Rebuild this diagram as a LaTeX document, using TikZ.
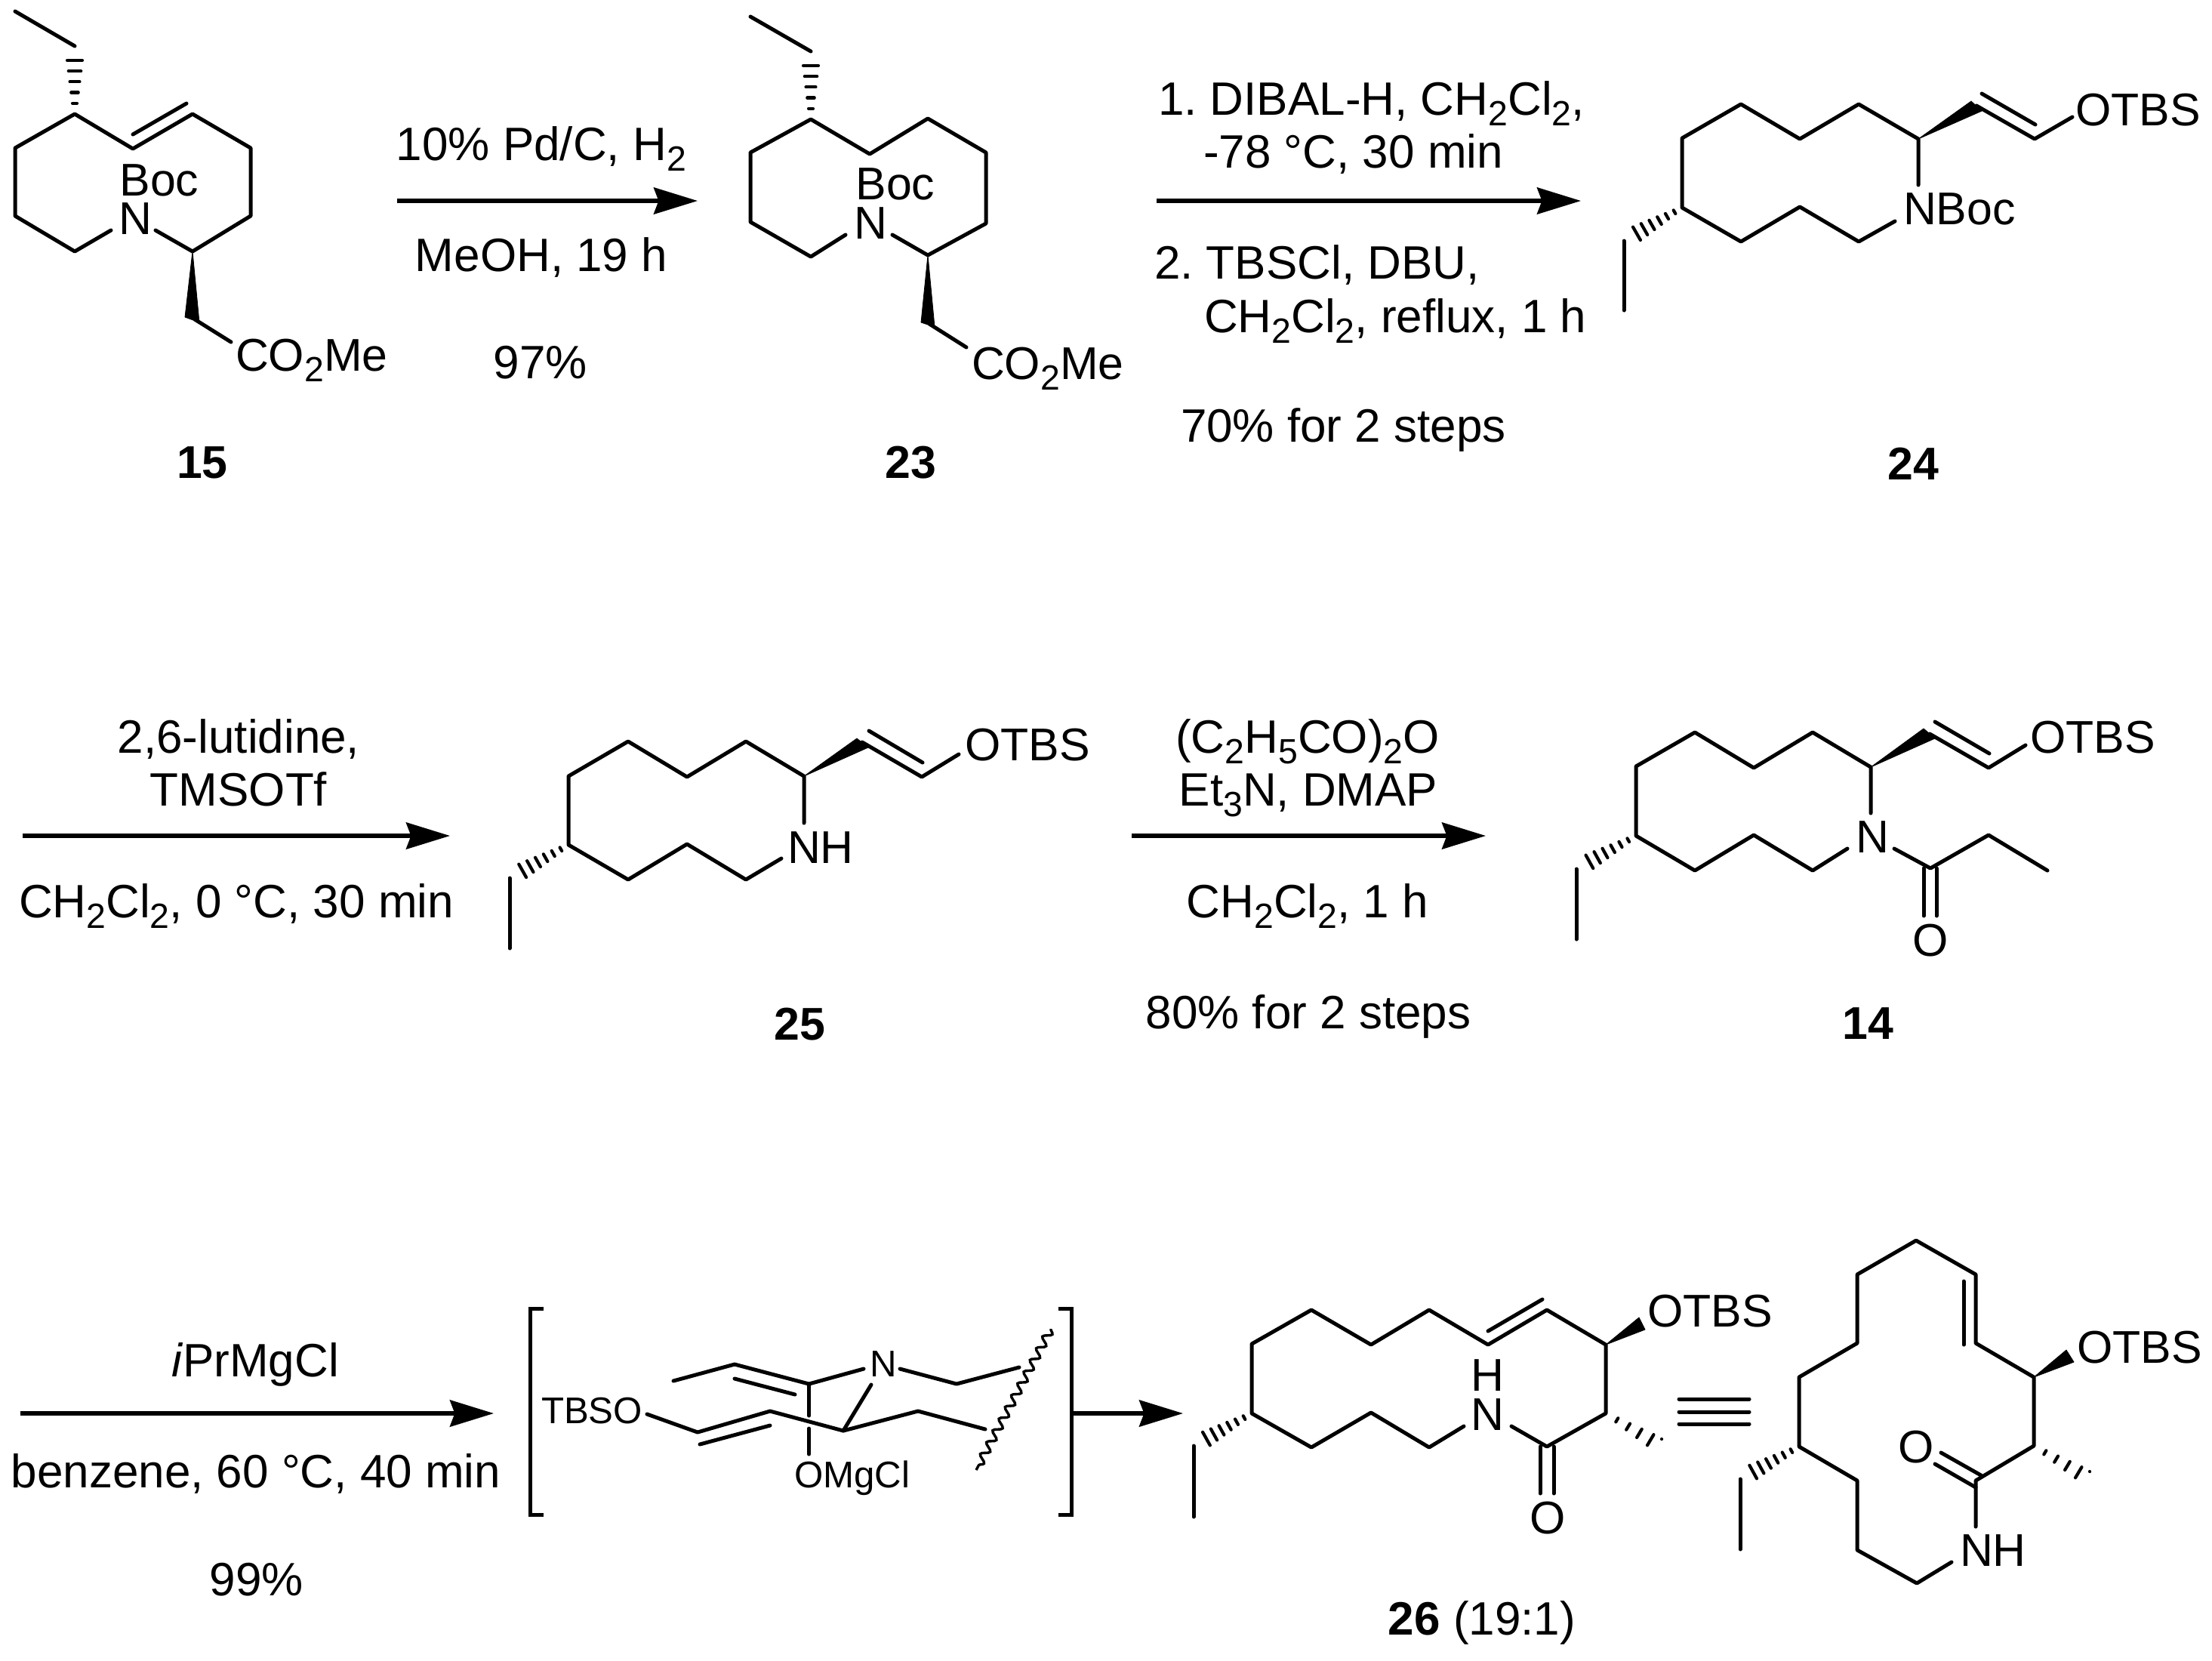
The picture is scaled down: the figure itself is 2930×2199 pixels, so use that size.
\documentclass[tikz,border=0pt]{standalone}
\usepackage{fontspec}
\setmainfont{Liberation Sans}
\usetikzlibrary{arrows.meta,calc,decorations.pathmorphing}
\newcommand\subs[1]{\raisebox{-0.23em}{\fontsize{11.6}{12}\selectfont #1}}
% hashed bond: from narrow end #1 to wide end #2, #4 bars, last one at fraction #3
\newcommand\hashb[4]{%
  \foreach \hI in {1,...,#4}{%
    \pgfmathsetmacro\hT{\hI/#4*#3}%
    \pgfmathsetmacro\hW{0.3+2.2*\hI/#4}%
    \coordinate (hp) at ($#1!\hT!#2$);
    \draw[hashbar] ($(hp)!\hW pt!90:#2$) -- ($(hp)!\hW pt!-90:#2$);
  }}
\tikzset{
  bond/.style={line width=1.25pt,line cap=round,line join=round},
  hashbar/.style={line width=1.05pt,line cap=round},
  wedgeb/.style={fill=black,draw=black,line width=0.2pt,line join=round},
  rxn/.style={line width=1.3pt,-{Stealth[length=14.5pt,width=8.8pt,inset=1.6pt]}},
  txt/.style={font=\fontsize{15.2}{18}\selectfont,inner sep=0pt,outer sep=0pt,anchor=base},
  txtl/.style={txt,anchor=base west},
  cond/.style={font=\fontsize{15.5}{18}\selectfont,inner sep=0pt,outer sep=0pt,anchor=base},
  condl/.style={cond,anchor=base west},
  small/.style={font=\fontsize{12.3}{14}\selectfont,inner sep=0pt,outer sep=0pt,anchor=base},
  lbl/.style={txt,font=\fontsize{15.2}{18}\selectfont\bfseries},
  wavy/.style={line width=0.85pt,decorate,decoration={snake,segment length=4.4pt,amplitude=1.3pt}},
}
\begin{document}
\begin{tikzpicture}[x=0.25pt,y=-0.25pt]
\useasboundingbox (0,0) rectangle (2930,2199);

% ---------- compound 15
\draw[bond] (20,15) -- (99,61);
\hashb{(99,151)}{(99,61)}{0.79}{5}
\draw[bond] (147,305) -- (99,333) -- (20,286) -- (20,196) -- (99,151) -- (176,197) -- (255,151) -- (332,196) -- (332,286) -- (255,333) -- (206,305);
\draw[bond] (176,178) -- (247,137);
\fill[wedgeb] (255,333) -- (245,420) -- (264,427) -- cycle;
\draw[bond] (258,423) -- (306,453);
\node[txt] (n15boc) at (211,259) {Boc};
\node[txt] (n15n) at (179,310) {N};
\node[txtl] (n15co) at (312,491) {CO\subs{2}Me};
\node[lbl] (n15) at (268,633) {15};

% arrow 1
\coordinate (a1s) at (526,266); \coordinate (a1e) at (924,266);
\draw[rxn] (a1s) -- (a1e);
\node[cond] (t1a) at (717,212) {10\% Pd/C, H\subs{2}};
\node[cond] (t1b) at (717,359) {MeOH, 19 h};
\node[cond] (t1c) at (716,501) {97\%};

% ---------- compound 23
\draw[bond] (994,22) -- (1074,68);
\hashb{(1074,158)}{(1074,68)}{0.79}{5}
\draw[bond] (1120,311) -- (1074,340) -- (994,294) -- (994,202) -- (1074,158) -- (1152,204) -- (1229,157) -- (1306,202) -- (1306,296) -- (1229,338) -- (1182,311);
\fill[wedgeb] (1229,338) -- (1220,427) -- (1238,433) -- cycle;
\draw[bond] (1231,429) -- (1280,460);
\node[txt] (n23boc) at (1186,264) {Boc};
\node[txt] (n23n) at (1153,316) {N};
\node[txtl] (n23co) at (1287,502) {CO\subs{2}Me};
\node[lbl] (n23) at (1206,633) {23};

% arrow 2
\coordinate (a2s) at (1532,266); \coordinate (a2e) at (2094,266);
\draw[rxn] (a2s) -- (a2e);
\node[condl] (t2a) at (1534,152) {1.\ DIBAL-H, CH\subs{2}Cl\subs{2},};
\node[condl] (t2b) at (1594,222) {-78 °C, 30 min};
\node[condl] (t2c) at (1529,369) {2.\ TBSCl, DBU,};
\node[condl] (t2d) at (1595,440) {CH\subs{2}Cl\subs{2}, reflux, 1 h};
\node[condl] (t2e) at (1564,585) {70\% for 2 steps};

% ---------- compound 24
\draw[bond] (2541,245) -- (2541,184) -- (2462,138) -- (2384,184) -- (2306,138) -- (2228,183) -- (2228,275) -- (2306,320) -- (2384,274) -- (2462,320) -- (2510,293);
\fill[wedgeb] (2541,184) -- (2611,134) -- (2625,147) -- cycle;
\draw[bond] (2618,140) -- (2695,184) -- (2745,155);
\draw[bond] (2625,124) -- (2696,165);
\node[txtl] (n24o) at (2749,166) {OTBS};
\node[txtl] (n24n) at (2521,297) {NBoc};
\hashb{(2228,275)}{(2151,319)}{0.78}{6}
\draw[bond] (2151,319) -- (2151,411);
\node[lbl] (n24) at (2534,635) {24};

% ---------- row 2, arrow 3
\coordinate (a3s) at (30,1107); \coordinate (a3e) at (596,1107);
\draw[rxn] (a3s) -- (a3e);
\node[cond] (t3a) at (316,997) {2,6-lutidine,};
\node[cond] (t3b) at (316,1067) {TMSOTf};
\node[cond] (t3c) at (313,1215) {CH\subs{2}Cl\subs{2}, 0 °C, 30 min};

% ---------- compound 25
\draw[bond] (1065,1090) -- (1065,1028) -- (988,982) -- (910,1029) -- (832,982) -- (753,1028) -- (753,1119) -- (832,1165) -- (910,1118) -- (988,1165) -- (1035,1137);
\fill[wedgeb] (1065,1028) -- (1135,978) -- (1150,990) -- cycle;
\draw[bond] (1142,983) -- (1221,1029) -- (1270,999);
\draw[bond] (1151,968) -- (1222,1010);
\node[txtl] (n25o) at (1278,1007) {OTBS};
\node[txtl] (n25n) at (1043,1143) {NH};
\hashb{(753,1119)}{(675,1163)}{0.78}{6}
\draw[bond] (675,1163) -- (675,1256);
\node[lbl] (n25) at (1059,1377) {25};

% arrow 4
\coordinate (a4s) at (1499,1107); \coordinate (a4e) at (1968,1107);
\draw[rxn] (a4s) -- (a4e);
\node[cond] (t4a) at (1732,997) {(C\subs{2}H\subs{5}CO)\subs{2}O};
\node[cond] (t4b) at (1733,1067) {Et\subs{3}N, DMAP};
\node[cond] (t4c) at (1732,1215) {CH\subs{2}Cl\subs{2}, 1 h};
\node[cond] (t4d) at (1733,1362) {80\% for 2 steps};

% ---------- compound 14
\draw[bond] (2478,1077) -- (2478,1016) -- (2401,970) -- (2323,1017) -- (2245,970) -- (2167,1015) -- (2167,1107) -- (2245,1153) -- (2323,1106) -- (2401,1153) -- (2447,1124);
\fill[wedgeb] (2478,1016) -- (2548,965) -- (2563,978) -- cycle;
\draw[bond] (2556,972) -- (2634,1017) -- (2683,987);
\draw[bond] (2563,956) -- (2635,998);
\node[txtl] (n14o) at (2689,997) {OTBS};
\node[txt] (n14n) at (2480,1129) {N};
\draw[bond] (2509,1124) -- (2557,1150) -- (2634,1106) -- (2712,1153);
\draw[bond] (2548,1150) -- (2548,1213);
\draw[bond] (2565,1150) -- (2565,1213);
\node[txt] (n14ox) at (2557,1266) {O};
\hashb{(2167,1107)}{(2088,1151)}{0.78}{6}
\draw[bond] (2088,1151) -- (2088,1244);
\node[lbl] (n14) at (2474,1376) {14};

% ---------- row 3, arrow 5
\coordinate (a5s) at (27,1872); \coordinate (a5e) at (654,1872);
\draw[rxn] (a5s) -- (a5e);
\node[cond] (t5a) at (338,1823) {\textit{i}PrMgCl};
\node[cond] (t5b) at (339,1970) {benzene, 60 °C, 40 min};
\node[cond] (t5c) at (340,2113) {99\%};

% ---------- bracketed intermediate
\draw[line width=1.25pt,line cap=butt] (720,1733) -- (702,1733) -- (702,2006) -- (720,2006);
\draw[line width=1.25pt,line cap=butt] (1402,1733) -- (1419,1733) -- (1419,2006) -- (1402,2006);
\node[small,anchor=base west] (itbso) at (717,1885) {TBSO};
\node[small,anchor=base west] (iomg) at (1052,1970) {OMgCl};
\node[small] (in) at (1170,1823) {N};
\draw[bond] (892,1829) -- (973,1807) -- (1071.5,1833) -- (1144,1813);
\draw[bond] (973,1826) -- (1053,1847);
\draw[bond] (1192,1813) -- (1267,1833) -- (1350,1811);
\draw[bond] (1154,1834) -- (1117,1895);
\draw[bond] (1071.5,1833) -- (1071.5,1875);
\draw[bond] (1071.5,1892) -- (1071.5,1926);
\draw[bond] (857,1873) -- (924,1897) -- (1020,1869) -- (1117,1895) -- (1216,1869) -- (1305,1893);
\draw[bond] (927,1913) -- (1020,1888);
\coordinate (wv1) at (1392,1760); \coordinate (wv2) at (1293,1947);
\draw[wavy] (wv1) -- (wv2);

% arrow 6
\coordinate (a6s) at (1422,1872); \coordinate (a6e) at (1567,1872);
\draw[rxn] (a6s) -- (a6e);

% ---------- compound 26
\hashb{(1658,1872)}{(1581,1915)}{0.78}{6}
\draw[bond] (1581,1915) -- (1581,2009);
\draw[bond] (1939,1889) -- (1893,1917) -- (1816,1871) -- (1737,1917) -- (1658,1872) -- (1658,1780) -- (1737,1735) -- (1816,1781) -- (1893,1735) -- (1971,1781) -- (2049,1735) -- (2127,1781) -- (2127,1872) -- (2049,1916) -- (2002,1889);
\draw[bond] (1971,1763) -- (2043,1721);
\fill[wedgeb] (2127,1781) -- (2171,1745) -- (2179,1761) -- cycle;
\node[txtl] (n26o) at (2182,1757) {OTBS};
\node[txt] (n26h) at (1970,1842) {H};
\node[txt] (n26n) at (1970,1894) {N};
\draw[bond] (2040,1916) -- (2040,1978);
\draw[bond] (2058,1916) -- (2058,1978);
\node[txt] (n26ox) at (2050,2031) {O};
\hashb{(2127,1872)}{(2201,1916)}{1}{5}
\node[cond] (n26) at (1963,2165) {{\bfseries 26} (19:1)};

% equivalence sign
\foreach \yq in {1853,1870,1886} \draw[bond] (2224,\yq) -- (2317,\yq);

% ---------- redrawn conformer of 26
\draw[bond] (2585,2069) -- (2539,2097) -- (2460,2053) -- (2460,1961) -- (2383,1916) -- (2383,1824) -- (2460,1779) -- (2460,1688) -- (2538,1643) -- (2617,1688) -- (2617,1779) -- (2694,1824) -- (2694,1915) -- (2617,1961) -- (2617,2022);
\draw[bond] (2601,1697) -- (2601,1781);
\fill[wedgeb] (2694,1824) -- (2737,1788) -- (2747,1804) -- cycle;
\node[txtl] (n26bo) at (2751,1805) {OTBS};
\draw[bond] (2624,1954) -- (2571,1924);
\draw[bond] (2617,1970) -- (2563,1939);
\node[txt] (n26box) at (2538,1937) {O};
\node[txtl] (n26bn) at (2596,2074) {NH};
\hashb{(2383,1916)}{(2305,1959)}{0.78}{6}
\draw[bond] (2305,1959) -- (2305,2052);
\hashb{(2694,1915)}{(2768,1959)}{1}{5}
\end{tikzpicture}
\end{document}
